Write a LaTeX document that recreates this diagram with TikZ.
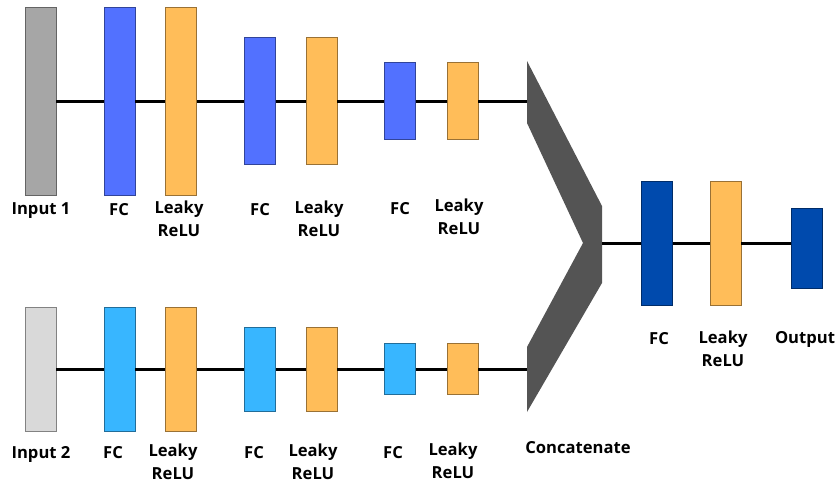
\documentclass[tikz,border=0pt]{standalone}
\usepackage{fontspec}
\setmainfont{Open Sans}
\definecolor{ingrey}{HTML}{A6A6A6}
\definecolor{inlight}{HTML}{D9D9D9}
\definecolor{fcblue}{HTML}{5271FF}
\definecolor{fccyan}{HTML}{38B6FF}
\definecolor{fcdark}{HTML}{004AAD}
\definecolor{relu}{HTML}{FFBD59}
\definecolor{concat}{HTML}{545454}
\begin{document}
\begin{tikzpicture}[x=1pt, y=-1pt,
    layer/.style={rectangle, minimum width=31pt, inner sep=0pt, line width=0.8pt},
    inbox/.style={layer, fill=#1, draw=#1!60!black},
    lbl/.style={anchor=base, align=center, inner sep=0pt, font=\fontsize{16.6}{23}\selectfont\bfseries},
    wire/.style={line width=3pt}]
  \useasboundingbox (0,0) rectangle (838,483);

  % upper branch
  \node[inbox=ingrey, minimum height=188pt] at (40.5, 101)  (in1)  {};
  \node[inbox=fcblue, minimum height=188pt] at (119.5, 101) (fc1a) {};
  \node[inbox=relu,   minimum height=188pt] at (181, 101)   (lr1a) {};
  \node[inbox=fcblue, minimum height=127pt] at (260, 101)   (fc2a) {};
  \node[inbox=relu,   minimum height=127pt] at (321.5, 101) (lr2a) {};
  \node[inbox=fcblue, minimum height=77pt]  at (400, 101)   (fc3a) {};
  \node[inbox=relu,   minimum height=77pt]  at (462.5, 101) (lr3a) {};

  % lower branch
  \node[inbox=inlight, minimum height=124pt] at (40.5, 369)  (in2)  {};
  \node[inbox=fccyan,  minimum height=124pt] at (119.5, 369) (fc1b) {};
  \node[inbox=relu,    minimum height=124pt] at (181, 369)   (lr1b) {};
  \node[inbox=fccyan,  minimum height=84pt]  at (260, 369)   (fc2b) {};
  \node[inbox=relu,    minimum height=84pt]  at (321.5, 369) (lr2b) {};
  \node[inbox=fccyan,  minimum height=51pt]  at (400, 369)   (fc3b) {};
  \node[inbox=relu,    minimum height=51pt]  at (462.5, 369) (lr3b) {};

  % concatenate
  \fill[concat] (527,61) -- (602,206) -- (602,283) -- (527,412) -- (527,347)
    -- (583,243) -- (527,123) -- cycle;
  \coordinate (cata) at (527, 101);
  \coordinate (catb) at (527, 369);
  \coordinate (catout) at (602, 243);

  % merged part
  \node[inbox=fcdark, minimum height=124pt] at (657, 243)   (fc4) {};
  \node[inbox=relu,   minimum height=124pt] at (725.5, 243) (lr4) {};
  \node[inbox=fcdark, minimum height=80pt]  at (807, 248)   (out) {};

  \draw[wire] (in1) -- (fc1a) -- (lr1a) -- (fc2a) -- (lr2a) -- (fc3a) -- (lr3a) -- (cata);
  \draw[wire] (in2) -- (fc1b) -- (lr1b) -- (fc2b) -- (lr2b) -- (fc3b) -- (lr3b) -- (catb);
  \draw[wire] (catout) -- (fc4) -- (lr4) -- (lr4.east -| out.west);

  % labels (two-line ones sit on their last line)
  \node[lbl] at (41, 214)  (t1) {Input 1};
  \node[lbl] at (119, 215) (t2) {FC};
  \node[lbl] at (179, 236) (t3) {Leaky\\ReLU};
  \node[lbl] at (260, 215) (t4) {FC};
  \node[lbl] at (319, 236) (t5) {Leaky\\ReLU};
  \node[lbl] at (400, 214) (t6) {FC};
  \node[lbl] at (459, 234) (t7) {Leaky\\ReLU};

  \node[lbl] at (41, 458)  (b1) {Input 2};
  \node[lbl] at (113, 458) (b2) {FC};
  \node[lbl] at (173, 479) (b3) {Leaky\\ReLU};
  \node[lbl] at (254, 458) (b4) {FC};
  \node[lbl] at (313, 479) (b5) {Leaky\\ReLU};
  \node[lbl] at (393, 458) (b6) {FC};
  \node[lbl] at (453, 478) (b7) {Leaky\\ReLU};
  \node[lbl] at (578, 453) (b8) {Concatenate};

  \node[lbl] at (659, 344) (r1) {FC};
  \node[lbl] at (723, 366) (r2) {Leaky\\ReLU};
  \node[lbl] at (805, 343) (r3) {Output};
\end{tikzpicture}
\end{document}
